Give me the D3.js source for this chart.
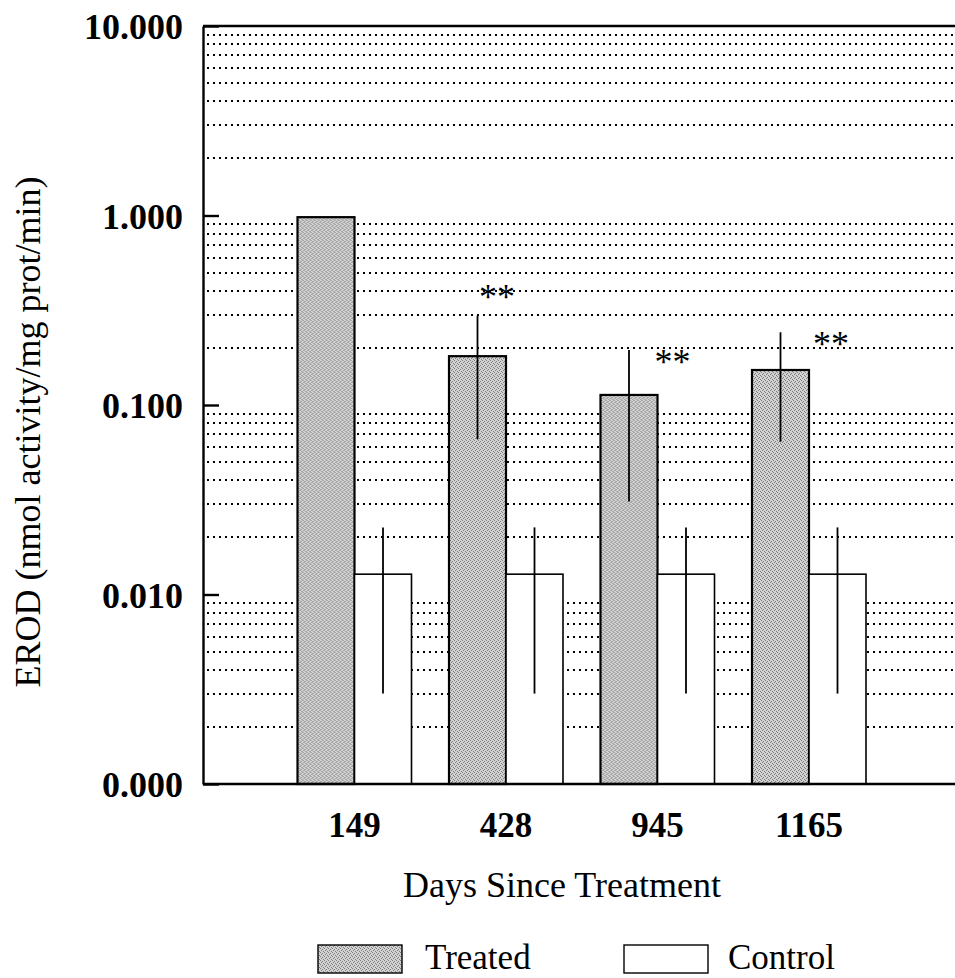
<!DOCTYPE html>
<html>
<head>
<meta charset="utf-8">
<script src="https://cdn.jsdelivr.net/npm/d3@7"></script>
<style>
  html, body { margin: 0; padding: 0; background: #fff; }
  svg { display: block; }
</style>
</head>
<body>
<svg id="chart"></svg>
<script>
// data
const days = ['149', '428', '945', '1165'];
const series = ['Treated', 'Control'];
const treatedMean = [0.98, 0.181, 0.113, 0.153];
const treatedSd = [null, 0.115, 0.082, 0.089];
const controlMean = [0.0128, 0.0128, 0.0128, 0.0128];
const controlSd = [0.0098, 0.0098, 0.0098, 0.0098];
const sigText = ['', '**', '**', '**'];
const sigLevel = [null, 0.40, 0.181, 0.226];
const yTickValues = [0.001, 0.01, 0.1, 1, 10];
const yTickLabels = ['0.000', '0.010', '0.100', '1.000', '10.000'];

// layout
const width = 955;
const height = 978;
const plotLeft = 203;
const plotRight = 960.5;
const plotTop = 26;
const plotBottom = 784;
const barW = 57;
const starNudge = [0, -9, 15, 22];
const serif = '"Liberation Serif", "Times New Roman", serif';

const svg = d3.select('#chart')
  .attr('width', width)
  .attr('height', height);

// stipple fill for treated bars
const pat = svg.append('defs')
  .append('pattern')
  .attr('id', 'stipple')
  .attr('patternUnits', 'userSpaceOnUse')
  .attr('width', 4)
  .attr('height', 4);
pat.append('rect').attr('width', 4).attr('height', 4).attr('fill', '#d2d2d2');
[[0, 0], [2, 1], [1, 2], [3, 3]].forEach(([px, py]) => {
  pat.append('rect')
    .attr('x', px).attr('y', py)
    .attr('width', 1).attr('height', 1)
    .attr('fill', '#7c7c7c');
});

// scales
const x = d3.scalePoint().domain(days).range([plotLeft, plotRight]).padding(1);
const xs = d3.scaleBand().domain(series).range([-barW, barW]);
const y = d3.scaleLog().domain([0.001, 10]).range([plotBottom, plotTop]);

const rows = days.map((d, i) => ({
  day: d,
  bars: [
    { s: 'Treated', mean: treatedMean[i], sd: treatedSd[i] },
    { s: 'Control', mean: controlMean[i], sd: controlSd[i] }
  ],
  sig: sigText[i],
  sigY: sigLevel[i],
  nudge: starNudge[i]
}));

// dotted minor gridlines (no line on the decades)
const minor = y.ticks().filter(v => Math.abs(Math.log10(v) - Math.round(Math.log10(v))) > 1e-6);
svg.append('g')
  .selectAll('line')
  .data(minor)
  .join('line')
    .attr('x1', plotLeft + 4)
    .attr('x2', width + 10)
    .attr('y1', d => Math.round(y(d)))
    .attr('y2', d => Math.round(y(d)))
    .attr('stroke', '#000')
    .attr('stroke-width', 2)
    .attr('stroke-dasharray', '2,4');

// bars
const groups = svg.append('g')
  .selectAll('g')
  .data(rows)
  .join('g')
    .attr('transform', d => `translate(${x(d.day)},0)`);

groups.selectAll('rect')
  .data(d => d.bars)
  .join('rect')
    .attr('x', d => xs(d.s))
    .attr('width', xs.bandwidth())
    .attr('y', d => y(d.mean))
    .attr('height', d => plotBottom - y(d.mean))
    .attr('fill', d => d.s === 'Treated' ? 'url(#stipple)' : '#fff')
    .attr('stroke', '#000')
    .attr('stroke-width', d => d.s === 'Treated' ? 2.2 : 1.6);

// error bars, no caps
groups.selectAll('line.err')
  .data(d => d.bars.filter(b => b.sd != null))
  .join('line')
    .classed('err', true)
    .attr('x1', d => xs(d.s) + xs.bandwidth() / 2)
    .attr('x2', d => xs(d.s) + xs.bandwidth() / 2)
    .attr('y1', d => y(d.mean + d.sd))
    .attr('y2', d => y(d.mean - d.sd))
    .attr('stroke', '#000')
    .attr('stroke-width', 1.8);

// significance stars
groups.filter(d => d.sig)
  .append('text')
    .attr('x', d => d.nudge)
    .attr('y', d => y(d.sigY))
    .attr('dy', '0.5em')
    .attr('text-anchor', 'middle')
    .style('font-family', serif)
    .style('font-size', '36px')
    .text(d => d.sig);

// frame: top and bottom
svg.append('line')
  .attr('x1', plotLeft).attr('x2', width + 10)
  .attr('y1', plotTop).attr('y2', plotTop)
  .attr('stroke', '#000').attr('stroke-width', 2.4);
svg.append('line')
  .attr('x1', plotLeft).attr('x2', width + 10)
  .attr('y1', plotBottom).attr('y2', plotBottom)
  .attr('stroke', '#000').attr('stroke-width', 2.4);

// y axis with short inward ticks
const yAxis = d3.axisLeft(y)
  .tickValues(yTickValues)
  .tickFormat((d, i) => yTickLabels[i])
  .tickSizeInner(-16)
  .tickSizeOuter(0)
  .tickPadding(20);

const yg = svg.append('g')
  .attr('transform', `translate(${plotLeft},0)`)
  .call(yAxis);
yg.select('.domain').attr('stroke-width', 2.4);
yg.selectAll('.tick line').attr('stroke-width', 2.4);
yg.selectAll('.tick text')
  .attr('dy', '0.36em')
  .style('font-family', serif)
  .style('font-weight', 'bold')
  .style('font-size', '36px')
  .attr('fill', '#000');

// x tick labels
svg.append('g')
  .selectAll('text')
  .data(days)
  .join('text')
    .attr('x', d => x(d))
    .attr('y', 837)
    .attr('text-anchor', 'middle')
    .style('font-family', serif)
    .style('font-weight', 'bold')
    .style('font-size', '35px')
    .text(d => d);

// axis titles
svg.append('text')
  .attr('x', 562)
  .attr('y', 897)
  .attr('text-anchor', 'middle')
  .style('font-family', serif)
  .style('font-size', '36px')
  .text('Days Since Treatment');

svg.append('text')
  .attr('transform', 'translate(40,432) rotate(-90)')
  .attr('text-anchor', 'middle')
  .style('font-family', serif)
  .style('font-size', '36px')
  .text('EROD (nmol activity/mg prot/min)');

// legend
const legendPos = [{ bx: 318, tx: 425 }, { bx: 624, tx: 728 }];
const legend = svg.append('g')
  .selectAll('g')
  .data(series)
  .join('g');
legend.append('rect')
  .attr('x', (d, i) => legendPos[i].bx)
  .attr('y', 945)
  .attr('width', 84)
  .attr('height', 28)
  .attr('fill', d => d === 'Treated' ? 'url(#stipple)' : '#fff')
  .attr('stroke', '#000')
  .attr('stroke-width', 1.4);
legend.append('text')
  .attr('x', (d, i) => legendPos[i].tx)
  .attr('y', 969)
  .style('font-family', serif)
  .style('font-size', '35px')
  .text(d => d);
</script>
</body>
</html>
